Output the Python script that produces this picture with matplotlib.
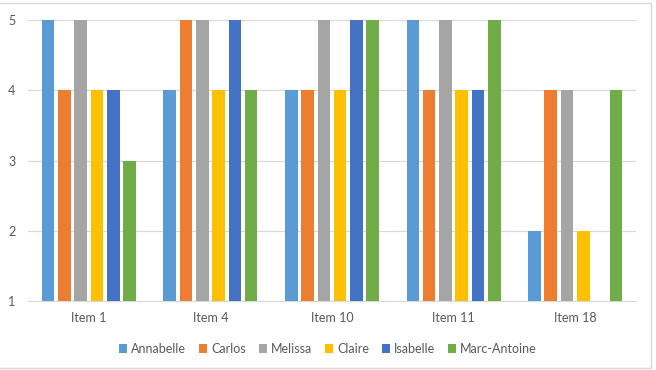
import matplotlib
matplotlib.use("Agg")
import matplotlib.pyplot as plt
import numpy as np
from matplotlib.patches import Rectangle

categories = ["Item 1", "Item 4", "Item 10", "Item 11", "Item 18"]
series_names = ["Annabelle", "Carlos", "Melissa", "Claire", "Isabelle", "Marc-Antoine"]
annabelle = [5, 4, 4, 5, 2]
carlos = [4, 5, 4, 4, 4]
melissa = [5, 5, 5, 5, 4]
claire = [4, 4, 4, 4, 2]
isabelle = [4, 5, 5, 4, np.nan]
marc_antoine = [3, 4, 5, 5, 4]
series_values = [annabelle, carlos, melissa, claire, isabelle, marc_antoine]
colors = ["#5B9BD5", "#ED7D31", "#A5A5A5", "#FFC000", "#4472C4", "#70AD47"]
y_ticks = [1, 2, 3, 4, 5]

plt.rcParams['font.family'] = ['Lato', 'DejaVu Sans']

W, H = 656, 370
fig = plt.figure(figsize=(W / 100, H / 100), dpi=100)
fig.patches.append(Rectangle((-0.01, 1 - 368 / H), (652 + 6) / W, (368 - 3) / H,
                             transform=fig.transFigure, facecolor='white',
                             edgecolor='#D9D9D9', linewidth=1.0, zorder=-10))
ax = fig.add_axes([28 / W, 1 - 301 / H, (636 - 28) / W, (301 - 20) / H])

x = np.arange(len(categories))
slot = 0.134
bw = 0.104
base = 1
for i, (name, vals, c) in enumerate(zip(series_names, series_values, colors)):
    v = np.array(vals, dtype=float)
    ax.bar(x + (i - 2.5) * slot, v - base, bottom=base, width=bw, color=c,
           label=name, zorder=3)

ax.set_xlim(-0.5, len(categories) - 0.5)
ax.set_ylim(1, 5)
ax.set_yticks(y_ticks)
ax.set_xticks(x)
ax.set_xticklabels(categories)
ax.grid(axis='y', color='#D9D9D9', linewidth=0.9, zorder=0)
for s in ['top', 'right', 'left']:
    ax.spines[s].set_visible(False)
ax.spines['bottom'].set_color('#D9D9D9')
ax.tick_params(axis='both', length=0, colors='#595959', labelsize=9)
ax.tick_params(axis='y', pad=9)
ax.tick_params(axis='x', pad=8)

leg = fig.legend(loc='center', bbox_to_anchor=(0.5, 1 - 349 / H), ncol=6,
                 frameon=False, fontsize=9, handlelength=0.65, handleheight=0.65,
                 handletextpad=0.3, columnspacing=1.05, borderaxespad=0)
for t in leg.get_texts():
    t.set_color('#595959')

fig.savefig("out.png", dpi=100)
